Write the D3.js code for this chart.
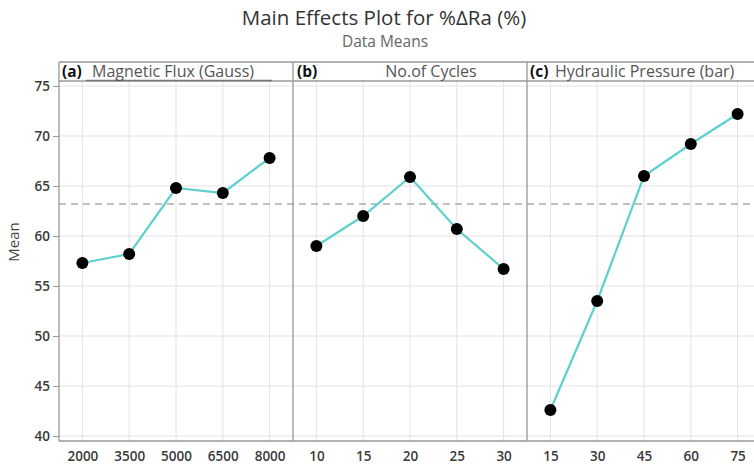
<!DOCTYPE html>
<html>
<head>
<meta charset="utf-8">
<script src="https://cdn.jsdelivr.net/npm/d3@7/dist/d3.min.js"></script>
<style>
  html, body { margin: 0; padding: 0; background: #fff; }
  svg { display: block; font-family: "Open Sans", "Noto Sans", sans-serif; }
</style>
</head>
<body>
<svg id="chart" width="754" height="466"></svg>
<script>
// Factor levels and mean %ΔRa at each level
const fluxLevels = ["2000", "3500", "5000", "6500", "8000"];
const fluxMeans = [57.3, 58.2, 64.8, 64.3, 67.8];
const cycleLevels = ["10", "15", "20", "25", "30"];
const cycleMeans = [59.0, 62.0, 65.9, 60.7, 56.7];
const pressureLevels = ["15", "30", "45", "60", "75"];
const pressureMeans = [42.6, 53.5, 66.0, 69.2, 72.2];
const grandMean = 63.2;
const yTicks = [40, 45, 50, 55, 60, 65, 70, 75];
const panelTags = ["(a)", "(b)", "(c)"];
const panelTitles = ["Magnetic Flux (Gauss)", "No.of Cycles", "Hydraulic Pressure (bar)"];

const panels = [
  { tag: panelTags[0], title: panelTitles[0], levels: fluxLevels, means: fluxMeans },
  { tag: panelTags[1], title: panelTitles[1], levels: cycleLevels, means: cycleMeans },
  { tag: panelTags[2], title: panelTitles[2], levels: pressureLevels, means: pressureMeans }
];

const svg = d3.select("#chart");
const W = 754;
const left = 59, panelW = 234;
const stripTop = 62, stripBot = 81, plotBot = 441;

const y = d3.scaleLinear().domain([39.5, 75.5]).range([plotBot, 81]);

// Titles
svg.append("text").attr("x", 384).attr("y", 25).attr("text-anchor", "middle")
  .attr("font-size", 20.5).attr("fill", "#333").text("Main Effects Plot for %ΔRa (%)");
svg.append("text").attr("x", 385).attr("y", 47).attr("text-anchor", "middle")
  .attr("font-size", 15.5).attr("fill", "#666").text("Data Means");

// Y axis title
svg.append("text").attr("transform", "translate(19,242) rotate(-90)")
  .attr("text-anchor", "middle").attr("font-size", 15).attr("fill", "#444").text("Mean");

const grid = svg.append("g");
const marks = svg.append("g");

panels.forEach((p, i) => {
  const x0 = left + i * panelW;
  const x = d3.scalePoint().domain(p.levels).range([x0, x0 + panelW]).padding(0.5);

  // grid lines
  grid.selectAll(null).data(yTicks).enter().append("line")
    .attr("x1", x0).attr("x2", x0 + panelW)
    .attr("y1", d => y(d)).attr("y2", d => y(d))
    .attr("stroke", "#e2e2e2").attr("stroke-width", 1);
  grid.selectAll(null).data(p.levels).enter().append("line")
    .attr("x1", d => x(d)).attr("x2", d => x(d))
    .attr("y1", stripBot).attr("y2", plotBot)
    .attr("stroke", "#e2e2e2").attr("stroke-width", 1);

  // bottom axis
  const xAxis = d3.axisBottom(x).tickSize(0).tickPadding(10);
  const gx = svg.append("g").attr("transform", `translate(0,${plotBot})`).call(xAxis);
  gx.select(".domain").remove();
  gx.selectAll("text").attr("font-size", 13.5).attr("font-weight", 600).attr("fill", "#3a3a3a")
    .attr("font-family", "'Open Sans', sans-serif");

  p.x = x; p.x0 = x0;
});

// reference line at the overall mean
marks.append("line")
  .attr("x1", left).attr("x2", W)
  .attr("y1", y(grandMean)).attr("y2", y(grandMean))
  .attr("stroke", "#aaa").attr("stroke-width", 1.6).attr("stroke-dasharray", "7,5");

panels.forEach(p => {
  const pts = p.levels.map((l, j) => [p.x(l), y(p.means[j])]);
  marks.append("path").attr("d", d3.line()(pts))
    .attr("fill", "none").attr("stroke", "#5fcfcf").attr("stroke-width", 2.2);
  marks.selectAll(null).data(p.levels).enter().append("circle")
    .attr("cx", d => p.x(d)).attr("cy", (d, j) => y(p.means[j]))
    .attr("r", 6).attr("fill", "#000");
});

// frame, strips and panel separators
const frame = svg.append("g").attr("stroke", "#999").attr("stroke-width", 1.3);
frame.append("line").attr("x1", left).attr("x2", W).attr("y1", stripTop).attr("y2", stripTop);
frame.append("line").attr("x1", left).attr("x2", W).attr("y1", stripBot).attr("y2", stripBot);
frame.append("line").attr("x1", left).attr("x2", W).attr("y1", plotBot).attr("y2", plotBot);
[0, 1, 2, 3].forEach(i => {
  const xx = left + i * panelW;
  frame.append("line").attr("x1", xx).attr("x2", xx).attr("y1", stripTop).attr("y2", plotBot);
});
// underline beneath the first factor name
svg.append("line").attr("x1", 86).attr("x2", 272).attr("y1", 80.5).attr("y2", 80.5)
  .attr("stroke", "#777").attr("stroke-width", 1.3);

// strip labels
const tagOffsets = [3, 4, 3];
const titleOffsets = [33, 138, 28];
panels.forEach((p, i) => {
  const x0 = p.x0;
  svg.append("text").attr("x", x0 + tagOffsets[i]).attr("y", 77).attr("font-size", 15.5)
    .attr("font-weight", "bold").attr("fill", "#111").text(p.tag);
  const t = svg.append("text").attr("x", x0 + titleOffsets[i]).attr("y", 77)
    .attr("font-size", 16).attr("fill", "#555").text(p.title);
  if (i === 1) t.attr("text-anchor", "middle");
});

// y axis ticks and labels
const yAxis = d3.axisLeft(y).tickValues(yTicks).tickSize(6).tickPadding(3);
const gy = svg.append("g").attr("transform", `translate(${left},0)`).call(yAxis);
gy.select(".domain").remove();
gy.selectAll(".tick line").attr("stroke", "#999");
gy.selectAll("text").attr("font-size", 13.5).attr("font-weight", 600).attr("fill", "#3a3a3a")
  .attr("font-family", "'Open Sans', sans-serif");
</script>
</body>
</html>
